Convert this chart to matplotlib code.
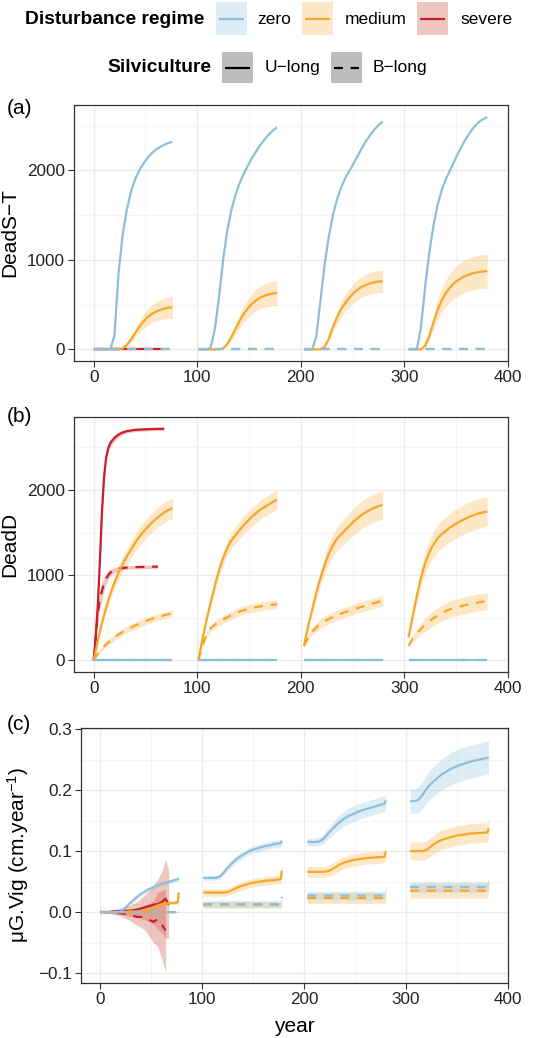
import matplotlib
matplotlib.use("Agg")
import matplotlib.pyplot as plt
from matplotlib.patches import Rectangle
import numpy as np

plt.rcParams['font.family'] = ['Liberation Sans', 'DejaVu Sans']
plt.rcParams['mathtext.fontset'] = 'custom'
plt.rcParams['mathtext.rm'] = 'Liberation Sans'
plt.rcParams['mathtext.it'] = 'Liberation Sans:italic'

# ---- data ----
AGES = [0, 4, 8, 12, 16, 20, 24, 28, 32, 36, 40, 44, 48, 52, 56, 60, 64, 68, 72, 76]
AGES_C = AGES + [77]
FLAT_AGES = [0, 76]
DASH_AGES_C = [0, 76, 77]
ROT_START = [0, 101, 203, 304]

# (a) DeadS-T
a_zero_U = [
    [0, 0, 0, 0, 0, 150, 850, 1280, 1560, 1760, 1900, 2000, 2075, 2140, 2190, 2230, 2260, 2285, 2305, 2320],
    [0, 0, 0, 20, 230, 580, 1000, 1330, 1560, 1730, 1860, 1965, 2055, 2140, 2215, 2285, 2345, 2400, 2445, 2480],
    [0, 0, 0, 150, 550, 950, 1260, 1500, 1680, 1810, 1915, 1995, 2080, 2165, 2250, 2330, 2395, 2455, 2505, 2545],
    [0, 0, 0, 250, 700, 1080, 1380, 1610, 1780, 1900, 2000, 2100, 2195, 2285, 2365, 2435, 2495, 2540, 2572, 2595],
]
a_med_U = [
    [0, 0, 0, 0, 0, 0, 0, 10, 50, 110, 180, 250, 310, 360, 395, 420, 440, 455, 465, 470],
    [0, 0, 0, 0, 0, 0, 10, 60, 140, 230, 320, 400, 460, 510, 550, 580, 600, 615, 625, 630],
    [0, 0, 0, 0, 0, 30, 120, 250, 360, 450, 520, 580, 630, 670, 700, 720, 737, 750, 757, 762],
    [0, 0, 0, 0, 40, 150, 300, 440, 550, 630, 690, 740, 775, 805, 825, 843, 855, 865, 870, 875],
]
a_med_U_sd = [
    [0, 0, 0, 0, 0, 0, 0, 5, 20, 35, 50, 65, 80, 90, 100, 105, 110, 115, 120, 125],
    [0, 0, 0, 0, 0, 0, 5, 20, 40, 60, 80, 95, 105, 115, 120, 125, 130, 135, 138, 140],
    [0, 0, 0, 0, 0, 10, 30, 50, 70, 85, 95, 105, 110, 115, 118, 120, 122, 124, 125, 125],
    [0, 0, 0, 0, 15, 45, 80, 110, 135, 150, 160, 170, 175, 180, 183, 186, 188, 189, 190, 190],
]
a_flat = [0, 0]

# (b) DeadD
b_sev_U_ages = [0, 2, 4, 6, 8, 10, 12, 14, 16, 20, 24, 28, 32, 40, 50, 60, 68]
b_sev_U = [0, 290, 650, 1170, 1740, 2150, 2380, 2490, 2550, 2610, 2650, 2675, 2690, 2705, 2712, 2716, 2718]
b_sev_U_sd = [0, 40, 60, 80, 80, 70, 60, 50, 45, 35, 30, 25, 20, 20, 20, 20, 20]
b_sev_B_ages = [0, 2, 4, 6, 8, 10, 12, 14, 16, 20, 24, 28, 32, 40, 50, 62]
b_sev_B = [0, 250, 560, 720, 820, 900, 960, 1000, 1030, 1060, 1075, 1085, 1090, 1095, 1098, 1100]
b_sev_B_sd = [0, 60, 100, 110, 100, 80, 60, 50, 40, 30, 25, 20, 20, 20, 20, 20]
b_med_U = [
    [0, 230, 440, 620, 780, 910, 1030, 1130, 1220, 1300, 1380, 1450, 1510, 1565, 1615, 1660, 1700, 1735, 1765, 1785],
    [0, 250, 480, 680, 880, 1060, 1200, 1320, 1410, 1470, 1530, 1590, 1640, 1690, 1730, 1770, 1800, 1830, 1860, 1883],
    [170, 400, 600, 800, 970, 1120, 1250, 1350, 1430, 1480, 1530, 1580, 1630, 1670, 1710, 1740, 1770, 1790, 1810, 1825],
    [270, 520, 760, 970, 1140, 1270, 1360, 1430, 1480, 1520, 1560, 1590, 1620, 1645, 1670, 1690, 1710, 1725, 1738, 1747],
]
b_med_U_sd = [
    [0, 20, 40, 55, 65, 75, 85, 90, 95, 100, 105, 108, 110, 112, 114, 116, 117, 118, 119, 120],
    [0, 20, 40, 55, 65, 75, 85, 90, 95, 100, 103, 106, 108, 110, 111, 112, 113, 114, 115, 115],
    [20, 40, 60, 80, 95, 110, 120, 130, 138, 145, 150, 154, 157, 160, 162, 163, 164, 165, 165, 165],
    [30, 60, 90, 110, 125, 140, 150, 157, 162, 166, 169, 171, 172, 173, 174, 175, 175, 175, 175, 175],
]
b_med_B = [
    [0, 80, 140, 190, 230, 270, 305, 335, 360, 385, 410, 430, 450, 470, 485, 500, 515, 530, 542, 553],
    [0, 180, 300, 380, 420, 450, 480, 505, 530, 555, 575, 590, 605, 615, 625, 635, 642, 648, 654, 658],
    [170, 270, 340, 390, 430, 460, 485, 510, 530, 550, 567, 583, 600, 615, 630, 645, 660, 673, 686, 697],
    [170, 260, 320, 370, 420, 460, 495, 525, 555, 580, 600, 615, 628, 640, 652, 662, 672, 682, 690, 697],
]
b_med_B_sd = [
    [0, 15, 25, 30, 35, 37, 38, 40, 40, 40, 40, 40, 40, 40, 40, 40, 40, 40, 40, 40],
    [0, 20, 30, 38, 42, 45, 47, 50, 50, 50, 50, 50, 50, 50, 50, 50, 50, 50, 50, 50],
    [20, 35, 45, 50, 55, 60, 60, 60, 60, 60, 60, 60, 60, 60, 60, 60, 60, 60, 60, 60],
    [25, 45, 60, 70, 78, 84, 88, 91, 94, 96, 97, 98, 99, 100, 100, 100, 100, 100, 100, 100],
]
b_flat = [0, 0]

# (c) muG.Vig
c_zero_U = [
    [0, 0, 0, 0, 0, 0.001, 0.006, 0.013, 0.019, 0.025, 0.030, 0.034, 0.038, 0.041, 0.044, 0.046, 0.048, 0.050, 0.052, 0.054, 0.055],
    [0.056, 0.056, 0.056, 0.056, 0.058, 0.065, 0.073, 0.080, 0.086, 0.091, 0.095, 0.099, 0.102, 0.104, 0.106, 0.108, 0.109, 0.111, 0.112, 0.113, 0.117],
    [0.115, 0.115, 0.115, 0.116, 0.120, 0.128, 0.135, 0.142, 0.148, 0.153, 0.157, 0.160, 0.163, 0.166, 0.168, 0.170, 0.172, 0.174, 0.176, 0.178, 0.183],
    [0.182, 0.182, 0.184, 0.192, 0.202, 0.210, 0.216, 0.222, 0.227, 0.231, 0.235, 0.238, 0.241, 0.243, 0.245, 0.247, 0.249, 0.250, 0.252, 0.253, 0.254],
]
c_zero_U_sd = [
    [0, 0, 0, 0, 0, 0.001, 0.002, 0.002, 0.003, 0.003, 0.003, 0.003, 0.003, 0.003, 0.003, 0.003, 0.003, 0.003, 0.003, 0.003, 0.003],
    [0.004, 0.004, 0.004, 0.004, 0.004, 0.005, 0.005, 0.006, 0.006, 0.006, 0.006, 0.006, 0.006, 0.006, 0.006, 0.006, 0.006, 0.006, 0.006, 0.006, 0.006],
    [0.006, 0.006, 0.006, 0.007, 0.008, 0.009, 0.010, 0.011, 0.012, 0.012, 0.013, 0.013, 0.013, 0.013, 0.013, 0.013, 0.013, 0.013, 0.013, 0.013, 0.013],
    [0.020, 0.020, 0.021, 0.022, 0.023, 0.024, 0.025, 0.025, 0.026, 0.026, 0.027, 0.027, 0.027, 0.027, 0.027, 0.027, 0.027, 0.027, 0.027, 0.027, 0.027],
]
c_med_U = [
    [0, 0, 0, 0, 0, 0, 0, 0.001, 0.001, 0.001, 0.002, 0.003, 0.005, 0.007, 0.011, 0.013, 0.014, 0.015, 0.015, 0.016, 0.032],
    [0.032, 0.032, 0.032, 0.032, 0.032, 0.032, 0.033, 0.036, 0.039, 0.042, 0.044, 0.046, 0.048, 0.049, 0.050, 0.051, 0.052, 0.052, 0.053, 0.054, 0.068],
    [0.066, 0.066, 0.066, 0.066, 0.066, 0.067, 0.070, 0.074, 0.078, 0.081, 0.083, 0.085, 0.086, 0.087, 0.088, 0.089, 0.089, 0.090, 0.090, 0.091, 0.100],
    [0.100, 0.100, 0.100, 0.100, 0.102, 0.107, 0.112, 0.116, 0.119, 0.121, 0.123, 0.125, 0.126, 0.127, 0.128, 0.129, 0.129, 0.130, 0.130, 0.131, 0.137],
]
c_med_U_sd = [
    [0, 0, 0, 0, 0, 0, 0, 0.001, 0.001, 0.001, 0.002, 0.002, 0.002, 0.002, 0.003, 0.003, 0.003, 0.003, 0.003, 0.003, 0.003],
    [0.006, 0.006, 0.006, 0.006, 0.006, 0.006, 0.006, 0.006, 0.007, 0.007, 0.007, 0.007, 0.007, 0.007, 0.007, 0.007, 0.007, 0.007, 0.007, 0.007, 0.007],
    [0.009, 0.009, 0.009, 0.009, 0.009, 0.009, 0.010, 0.010, 0.010, 0.010, 0.010, 0.010, 0.010, 0.010, 0.010, 0.010, 0.010, 0.010, 0.010, 0.010, 0.010],
    [0.015, 0.015, 0.015, 0.015, 0.015, 0.015, 0.015, 0.016, 0.016, 0.016, 0.016, 0.016, 0.016, 0.016, 0.016, 0.016, 0.016, 0.016, 0.016, 0.016, 0.016],
]
c_zero_B = [[0, 0, 0.010], [0.013, 0.013, 0.025], [0.027, 0.027, 0.036], [0.041, 0.041, 0.050]]
c_zero_B_sd = [0.001, 0.006, 0.007, 0.009]
c_med_B = [[0, 0, 0.002], [0.012, 0.012, 0.015], [0.023, 0.023, 0.030], [0.035, 0.035, 0.045]]
c_med_B_sd = [0.001, 0.005, 0.009, 0.012]
c_sev_U_ages = [0, 4, 8, 12, 16, 20, 24, 28, 32, 36, 40, 44, 48, 52, 56, 60, 64, 67]
c_sev_U = [0, 0, 0, 0.001, 0.001, 0.002, 0.002, 0.002, 0.003, 0.004, 0.006, 0.008, 0.010, 0.012, 0.013, 0.016, 0.022, 0.012]
c_sev_U_sd = [0, 0.001, 0.002, 0.003, 0.004, 0.005, 0.007, 0.009, 0.011, 0.013, 0.017, 0.021, 0.026, 0.032, 0.040, 0.050, 0.065, 0.055]
c_sev_B_ages = [0, 4, 8, 12, 16, 20, 24, 28, 32, 36, 40, 44, 48, 52, 56, 60, 64]
c_sev_B = [0, 0, 0, -0.001, -0.001, -0.002, -0.003, -0.004, -0.006, -0.008, -0.008, -0.009, -0.013, -0.016, -0.012, -0.020, -0.030]
c_sev_B_sd = [0, 0.001, 0.002, 0.003, 0.004, 0.005, 0.007, 0.009, 0.011, 0.014, 0.017, 0.021, 0.027, 0.034, 0.044, 0.055, 0.068]

# ---- styles ----
COL = {'zero': '#8DBFDA', 'medium': '#F4A72A', 'severe': '#C81E2E'}
FILL = {'zero': ('#92C5DE', 0.3), 'medium': ('#F5A623', 0.25), 'severe': ('#C8452F', 0.3)}
DASH = (0, (4, 3.5))
LW = 1.6

W, H = 552, 1038
fig = plt.figure(figsize=(W / 100, H / 100), dpi=100)


def px_axes(l, t, r, b):
    return fig.add_axes([l / W, 1 - b / H, (r - l) / W, (b - t) / H])


def style_axis(ax, ylim, yticks, yminor, fmt=None):
    ax.set_xlim(-19, 400)
    ax.set_ylim(*ylim)
    ax.set_xticks([0, 100, 200, 300, 400])
    ax.set_xticks([50, 150, 250, 350], minor=True)
    ax.set_yticks(yticks)
    ax.set_yticks(yminor, minor=True)
    if fmt:
        ax.set_yticklabels([fmt.format(v).replace('-', '\u2212') for v in yticks])
    ax.grid(which='major', color='#EBEBEB', lw=0.9, zorder=0)
    ax.grid(which='minor', color='#F2F2F2', lw=0.5, zorder=0)
    ax.set_axisbelow(True)
    for s in ax.spines.values():
        s.set_color('#333333')
        s.set_linewidth(0.9)
    ax.tick_params(which='major', direction='out', length=4, width=0.8, color='#333333',
                   labelsize=12.3, labelcolor='#222222', pad=2.5)
    ax.tick_params(which='minor', length=0)


def band(ax, x, y, sd, reg):
    y = np.asarray(y, float)
    sd = np.asarray(sd, float)
    c, a = FILL[reg]
    ax.fill_between(x, y - sd, y + sd, color=c, alpha=a, lw=0, zorder=1)


def line(ax, x, y, reg, dashed=False):
    ax.plot(x, y, color=COL[reg], lw=LW, ls=DASH if dashed else '-',
            solid_capstyle='butt', dash_capstyle='butt', zorder=3)


def seg_x(k, ages):
    return [ROT_START[k] + a for a in ages]


# ---- panel (a) ----
ax_a = px_axes(74, 105, 508, 361)
style_axis(ax_a, (-130, 2730), [0, 1000, 2000], [500, 1500, 2500])
for k in range(4):
    band(ax_a, seg_x(k, AGES), a_med_U[k], a_med_U_sd[k], 'medium')
line(ax_a, [0, 68], a_flat, 'severe')
line(ax_a, [0, 62], a_flat, 'severe', dashed=True)
for k in range(4):
    line(ax_a, seg_x(k, AGES), a_med_U[k], 'medium')
    line(ax_a, seg_x(k, FLAT_AGES), a_flat, 'medium', dashed=True)
for k in range(4):
    line(ax_a, seg_x(k, AGES), a_zero_U[k], 'zero')
    line(ax_a, seg_x(k, FLAT_AGES), a_flat, 'zero', dashed=True)

# ---- panel (b) ----
ax_b = px_axes(74, 417, 508, 672)
style_axis(ax_b, (-136, 2856), [0, 1000, 2000], [500, 1500, 2500])
band(ax_b, b_sev_U_ages, b_sev_U, b_sev_U_sd, 'severe')
band(ax_b, b_sev_B_ages, b_sev_B, b_sev_B_sd, 'severe')
for k in range(4):
    band(ax_b, seg_x(k, AGES), b_med_U[k], b_med_U_sd[k], 'medium')
    band(ax_b, seg_x(k, AGES), b_med_B[k], b_med_B_sd[k], 'medium')
line(ax_b, b_sev_U_ages, b_sev_U, 'severe')
line(ax_b, b_sev_B_ages, b_sev_B, 'severe', dashed=True)
for k in range(4):
    line(ax_b, seg_x(k, AGES), b_med_U[k], 'medium')
    line(ax_b, seg_x(k, AGES), b_med_B[k], 'medium', dashed=True)
for k in range(4):
    line(ax_b, seg_x(k, FLAT_AGES), b_flat, 'zero', dashed=True)
    line(ax_b, seg_x(k, FLAT_AGES), b_flat, 'zero')

# ---- panel (c) ----
ax_c = px_axes(81, 728, 508, 983)
style_axis(ax_c, (-0.1164, 0.302), [-0.1, 0.0, 0.1, 0.2, 0.3], [-0.05, 0.05, 0.15, 0.25], fmt='{:.1f}')
band(ax_c, c_sev_U_ages, c_sev_U, c_sev_U_sd, 'severe')
band(ax_c, c_sev_B_ages, c_sev_B, c_sev_B_sd, 'severe')
for k in range(4):
    band(ax_c, seg_x(k, AGES_C), c_med_U[k], c_med_U_sd[k], 'medium')
    band(ax_c, seg_x(k, DASH_AGES_C), c_med_B[k], [c_med_B_sd[k]] * 3, 'medium')
    band(ax_c, seg_x(k, AGES_C), c_zero_U[k], c_zero_U_sd[k], 'zero')
    band(ax_c, seg_x(k, DASH_AGES_C), c_zero_B[k], [c_zero_B_sd[k]] * 3, 'zero')
line(ax_c, c_sev_U_ages, c_sev_U, 'severe')
line(ax_c, c_sev_B_ages, c_sev_B, 'severe', dashed=True)
for k in range(4):
    line(ax_c, seg_x(k, AGES_C), c_med_U[k], 'medium')
    line(ax_c, seg_x(k, DASH_AGES_C), c_med_B[k], 'medium', dashed=True)
for k in range(4):
    line(ax_c, seg_x(k, AGES_C), c_zero_U[k], 'zero')
    line(ax_c, seg_x(k, DASH_AGES_C), c_zero_B[k], 'zero', dashed=True)

# ---- labels ----
fig.text(10 / W, 1 - 233 / H, 'DeadS\u2212T', rotation=90, ha='center', va='center', fontsize=15)
fig.text(10 / W, 1 - 544 / H, 'DeadD', rotation=90, ha='center', va='center', fontsize=15)
fig.text(18 / W, 1 - 855 / H, 'μG.Vig (cm.year$^{-1}$)', rotation=90, ha='center', va='center', fontsize=15)
fig.text(294 / W, 1 - 1026 / H, 'year', ha='center', va='center', fontsize=15)
for tag, y in [('(a)', 109), ('(b)', 416), ('(c)', 724)]:
    fig.text(19 / W, 1 - y / H, tag, ha='center', va='center', fontsize=15)

# ---- legend ----
axl = fig.add_axes([0, 1 - 90 / H, 1, 90 / H])
axl.set_xlim(0, W)
axl.set_ylim(90, 0)
axl.axis('off')
axl.text(25, 19, 'Disturbance regime', fontsize=13.9, fontweight='bold', ha='left', va='center')
for reg, kx, lx, lab in [('zero', 216, 257, 'zero'), ('medium', 302, 345, 'medium'),
                         ('severe', 417, 460, 'severe')]:
    c, a = FILL[reg]
    axl.add_patch(Rectangle((kx, 2), 31, 33, fc=c, alpha=a, lw=0))
    axl.plot([kx + 3, kx + 28], [19, 19], color=COL[reg], lw=LW, solid_capstyle='butt')
    axl.text(lx, 19, lab, fontsize=12.5, ha='left', va='center')
axl.text(107, 67.5, 'Silviculture', fontsize=13.9, fontweight='bold', ha='left', va='center')
for kx, lx, lab, dashed in [(222, 265, 'U\u2212long', False), (331, 373, 'B\u2212long', True)]:
    axl.add_patch(Rectangle((kx, 52), 31, 31, fc='#BEBCBC', lw=0))
    axl.plot([kx + 3, kx + 28], [67.5, 67.5], color='black', lw=LW,
             ls=DASH if dashed else '-', solid_capstyle='butt', dash_capstyle='butt')
    axl.text(lx, 67.5, lab, fontsize=12.5, ha='left', va='center')

fig.savefig('out.png', dpi=100)
